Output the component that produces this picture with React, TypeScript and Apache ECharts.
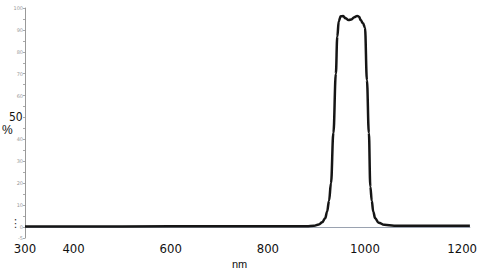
import React, { useEffect, useRef } from "react";
import * as echarts from "echarts";

const wavelengths = [300, 500, 700, 880, 895, 905, 912, 918, 922, 926, 930, 935, 940, 943, 946, 950, 955, 960, 966, 972, 978, 984, 988, 991, 996, 1000, 1004, 1008, 1011, 1014, 1017, 1021, 1028, 1040, 1060, 1100, 1216];
const transmission = [0.3, 0.3, 0.35, 0.4, 0.6, 1.2, 2.2, 4, 7, 12, 20, 43, 70, 87, 94, 96.2, 96.3, 95.3, 94.5, 94.8, 95.8, 96.4, 96, 94.5, 93, 91, 67, 43, 18.4, 12, 7, 4, 2, 1, 0.6, 0.55, 0.55];
const xTickLabels = [300, 400, 600, 800, 1000, 1200];
const yTickLabels = [-5, 0, 10, 20, 30, 40, 60, 70, 80, 90, 100];

export default function App() {
  const ref = useRef<HTMLDivElement>(null);
  useEffect(() => {
    if (!ref.current) return;
    const chart = echarts.init(ref.current, null, { renderer: "svg" });
    chart.setOption({
      animation: false,
      backgroundColor: "#ffffff",
      grid: { left: 25, right: 6, top: 8, bottom: 42, containLabel: false },
      xAxis: {
        type: "value",
        min: 300,
        max: 1216,
        interval: 100,
        axisLine: { show: true, lineStyle: { color: "#9aa2b0", width: 1 } },
        axisTick: { show: false },
        splitLine: { show: false },
        axisLabel: {
          margin: 4,
          color: "#111",
          fontFamily: "'DejaVu Sans Condensed', 'Liberation Sans Narrow', sans-serif",
          fontSize: 13,
          showMaxLabel: false,
          formatter: (v: number) => (xTickLabels.includes(v) ? String(v) : ""),
        },
      },
      yAxis: {
        type: "value",
        min: -5,
        max: 100,
        interval: 5,
        axisLine: { show: true, lineStyle: { color: "#999", width: 1 } },
        axisTick: { show: true, length: 2, lineStyle: { color: "#aaa" } },
        splitLine: { show: false },
        axisLabel: {
          margin: 2,
          color: "#999",
          fontSize: 5,
          fontFamily: "DejaVu Sans",
          formatter: (v: number) => (yTickLabels.includes(v) ? String(v) : ""),
        },
      },
      graphic: [
        { type: "text", left: 9, top: 111, style: { text: "50", fontSize: 12, fontFamily: "'DejaVu Sans Condensed', sans-serif", fill: "#111" } },
        { type: "text", left: 2, top: 124, style: { text: "%", fontSize: 12, fontFamily: "Liberation Sans", fill: "#111" } },
        { type: "text", left: 10, top: 218, style: { text: "⋮", fontSize: 11, fontFamily: "DejaVu Sans", fill: "#333" } },
        { type: "text", left: 232, top: 258, style: { text: "nm", fontSize: 11, fontFamily: "Liberation Sans", fill: "#111" } },
      ],
      series: [
        {
          type: "line",
          data: wavelengths.map((w, i) => [w, transmission[i]]),
          smooth: 0.4,
          smoothMonotone: "x",
          symbol: "none",
          lineStyle: { color: "#151515", width: 2.5 },
        },
      ],
    });
    return () => chart.dispose();
  }, []);
  return <div ref={ref} style={{ width: 480, height: 280, position: "absolute", left: 0, top: 0 }} />;
}
